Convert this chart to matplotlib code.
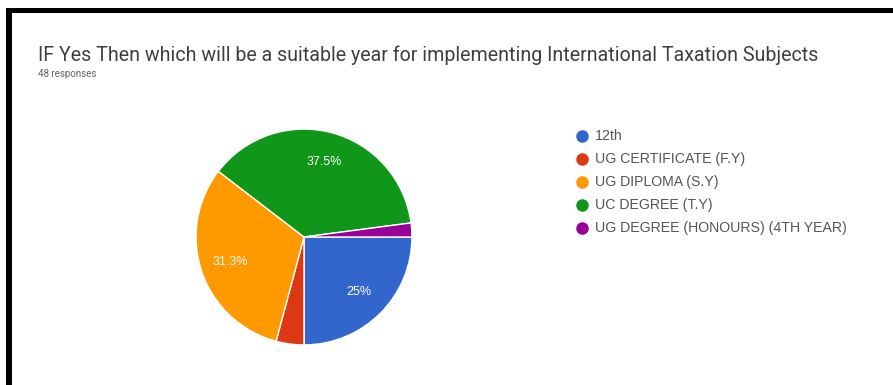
import matplotlib.pyplot as plt
from matplotlib.lines import Line2D
from matplotlib.patches import Rectangle
from decimal import Decimal, ROUND_HALF_UP

plt.rcParams['font.family'] = ['Roboto', 'DejaVu Sans']

# survey answers (48 responses)
categories = ['12th', 'UG CERTIFICATE (F.Y)', 'UG DIPLOMA (S.Y)',
              'UC DEGREE (T.Y)', 'UG DEGREE (HONOURS) (4TH YEAR)']
counts = [12, 2, 15, 18, 1]
colors = ['#3366cc', '#dc3912', '#ff9900', '#109618', '#990099']

title = 'IF Yes Then which will be a suitable year for implementing International Taxation Subjects'
subtitle = '48 responses'

W, H = 893, 385
fig = plt.figure(figsize=(W / 100, H / 100), dpi=100)


def fx(px):
    return px / W


def fy(py):
    return 1 - py / H


# black frame on left and top
fig.add_artist(Rectangle((fx(6), 0), fx(6), fy(8), transform=fig.transFigure,
                         color='black', lw=0))
fig.add_artist(Rectangle((fx(6), fy(13)), 1, 5 / H, transform=fig.transFigure,
                         color='black', lw=0))

fig.text(fx(38), fy(55), title, fontsize=14.1, color='#3c4043', va='center', ha='left')
fig.text(fx(38), fy(74), subtitle, fontsize=7, color='#5f6368', va='center', ha='left')

# pie
cx, cy, r = 304, 237, 109
ax = fig.add_axes([fx(cx - r), 1 - (cy + r) / H, 2 * r / W, 2 * r / H])


def pct_label(p):
    if p < 5:
        return ''
    v = Decimal(str(round(p, 6))).quantize(Decimal('0.1'), rounding=ROUND_HALF_UP)
    s = str(v)
    if s.endswith('.0'):
        s = s[:-2]
    return s + '%'


wedges, texts, autotexts = ax.pie(
    counts, colors=colors, startangle=0, counterclock=False,
    autopct=pct_label, pctdistance=0.72,
    wedgeprops=dict(edgecolor='white', linewidth=1),
    textprops=dict(color='white', fontsize=9, family='Liberation Sans'))
ax.set_xlim(-1.01, 1.01)
ax.set_ylim(-1.01, 1.01)
ax.set_aspect('equal')
ax.axis('off')

# legend
for i, (lab, col) in enumerate(zip(categories, colors)):
    y = fy(136 + 23 * i)
    fig.add_artist(Line2D([fx(582)], [y], transform=fig.transFigure, marker='o',
                          markersize=8, color=col, lw=0))
    fig.text(fx(595), y, lab, fontsize=10.2, color='#555555', va='center', ha='left',
             family='Liberation Sans')

fig.savefig('out.png', dpi=100)
